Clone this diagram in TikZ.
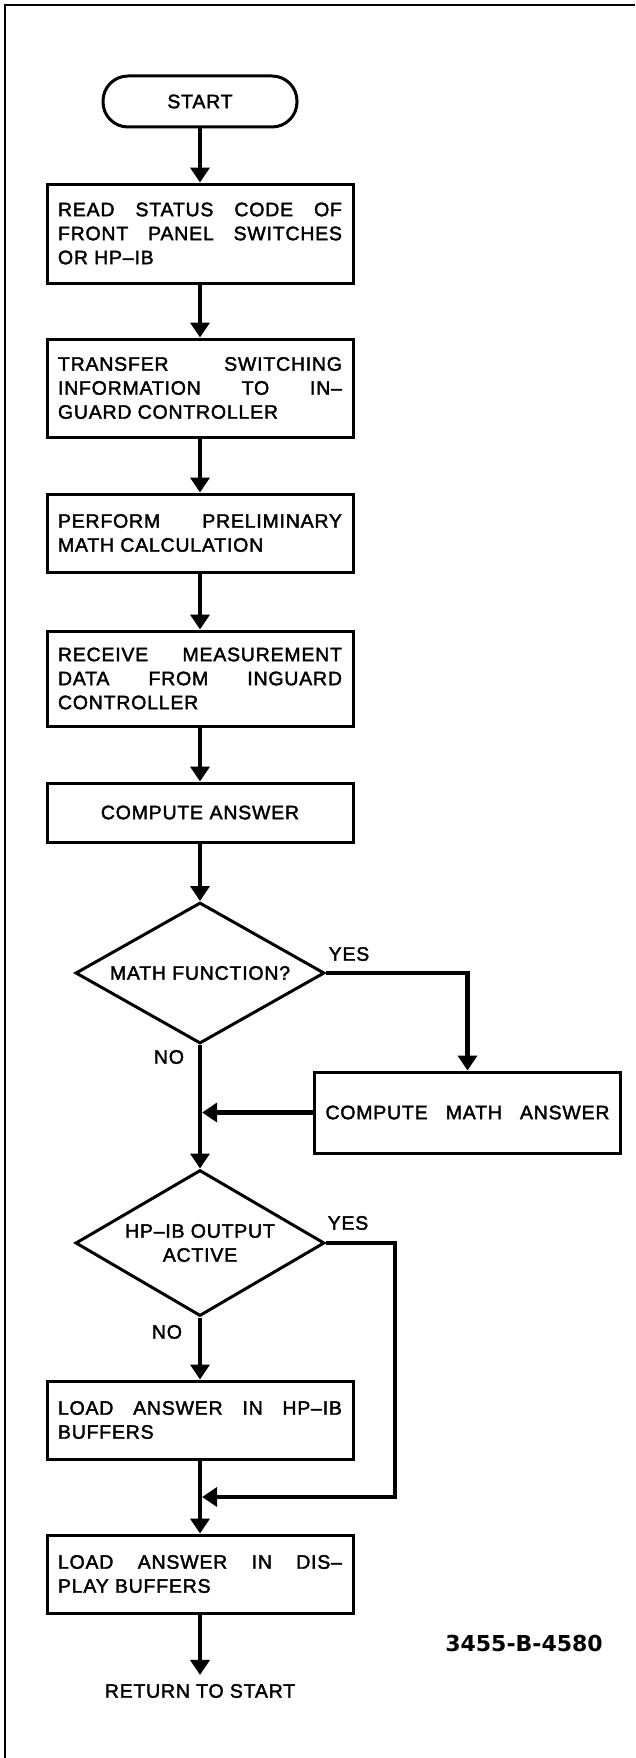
\documentclass[tikz,border=0pt]{standalone}
\usepackage{fontspec}
\setmainfont{Liberation Sans}[LetterSpace=4.0, FakeBold=2]
\newfontfamily\idfont{DejaVu Sans}
\usepackage{tikz}
\usetikzlibrary{shapes.geometric, arrows.meta, positioning}
\newcommand{\flowfont}{\fontsize{19.5pt}{24pt}\selectfont\hyphenpenalty=10000\tolerance=10000\hbadness=10000}

\begin{document}
\begin{tikzpicture}[x=1pt, y=-1pt,
    process/.style={draw, rectangle, line width=3pt, text width=284pt, align=justify, inner xsep=11pt, inner ysep=0pt, font=\flowfont},
    decision/.style={draw, diamond, aspect=1.77, line width=3pt, inner sep=0pt, minimum width=249pt, align=center, font=\flowfont},
    terminal/.style={draw, rectangle, rounded corners=25pt, line width=3pt, minimum width=194pt, minimum height=51pt, font=\flowfont},
    flow/.style={line width=4.2pt, -{Triangle[length=15pt, width=19pt]}},
    branchtext/.style={font=\flowfont, inner sep=0pt}
]
\useasboundingbox (0,0) rectangle (635,1758);
% frame
\draw[line width=2.6pt] (5,1758) -- (5,5) -- (635,5);

\node[terminal] (start) at (200,101.5) {START};
\node[process, minimum height=99pt] (readsw) at (200,233.5) {READ STATUS CODE OF\linebreak FRONT PANEL SWITCHES\linebreak OR HP\textendash IB};
\node[process, minimum height=98pt] (transfer) at (200,388) {TRANSFER SWITCHING\linebreak INFORMATION TO IN\textendash\linebreak GUARD CONTROLLER};
\node[process, minimum height=78pt] (premath) at (200,533) {PERFORM PRELIMINARY\linebreak MATH CALCULATION};
\node[process, minimum height=95pt] (receive) at (200,678.5) {RECEIVE MEASUREMENT\linebreak DATA FROM INGUARD\linebreak CONTROLLER};
\node[process, minimum height=59pt, align=center] (answer) at (200,812.5) {COMPUTE ANSWER};
\node[decision, minimum height=141pt] (mathq) at (200,973) {MATH FUNCTION?};
\node[process, minimum height=81pt] (mathans) at (467.5,1112.5) {COMPUTE\hfill MATH\hfill ANSWER};
\node[decision, minimum height=146pt] (hpibq) at (200,1243) {HP\textendash IB OUTPUT\\ACTIVE};
\node[process, minimum height=78pt] (loadhpib) at (200,1420) {LOAD ANSWER IN HP\textendash IB\linebreak BUFFERS};
\node[process, minimum height=78pt] (loaddisp) at (200,1574) {LOAD ANSWER IN DIS\textendash\linebreak PLAY BUFFERS};
\node[branchtext, inner ysep=9pt] (ret) at (200,1691) {RETURN TO START};
\node[font=\idfont\bfseries\fontsize{22pt}{26pt}\selectfont, inner sep=0pt] (figid) at (524,1643) {3455-B-4580};

% branch labels
\node[branchtext] (yes1) at (349,954) {YES};
\node[branchtext] (no1) at (169,1057) {NO};
\node[branchtext] (yes2) at (348,1223) {YES};
\node[branchtext] (no2) at (167,1332) {NO};

\coordinate (join1) at (202.1,1112.5);
\coordinate (join2) at (202.1,1497);

\draw[flow] (start) -- (readsw);
\draw[flow] (readsw) -- (transfer);
\draw[flow] (transfer) -- (premath);
\draw[flow] (premath) -- (receive);
\draw[flow] (receive) -- (answer);
\draw[flow] (answer) -- (mathq);
\draw[flow] (mathq.east) -| (mathans.north);
\draw[flow] (mathq.south) -- (hpibq.north);
\draw[flow] (mathans.west) -- (join1);
\draw[flow] (hpibq.south) -- (loadhpib.north);
\draw[flow] (hpibq.east) -- ++(69,0) |- (join2);
\draw[flow] (loadhpib) -- (loaddisp);
\draw[flow] (loaddisp) -- (ret);
\end{tikzpicture}
\end{document}
